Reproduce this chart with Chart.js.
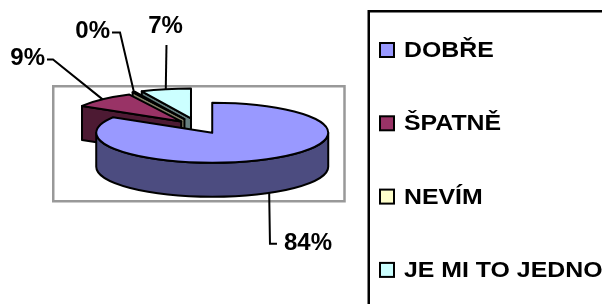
<!DOCTYPE html>
<html><head><meta charset="utf-8">
<script src="https://cdn.jsdelivr.net/npm/chart.js@4"></script>
<style>html,body{margin:0;padding:0;background:#fff;overflow:hidden}#wrap{width:602px;height:304px;position:relative}</style>
</head><body><div id="wrap"><canvas id="c"></canvas></div>
<script>
// ---- data ----
const categories = ['DOBŘE', 'ŠPATNĚ', 'NEVÍM', 'JE MI TO JEDNO'];
const values = [84, 9, 0.4, 7];
const topColors = ['#9999FF', '#993366', '#FFFFCC', '#CCFFFF'];
const sideColors = ['#4C4C80', '#4D1A33', '#808066', '#668080'];
const explode = [30, 24, 30, 30];

// ---- style / layout ----
const TILT = 0.2586, DEPTH = 34;
const labelLayout = [
  {dx: 14.8, dy: 50.4, align: 'left', elbow: [-14, 0.5], stub: [-7, 0.5]},
  {dx: -57.6, dy: -40.9, align: 'right', elbow: [8, 1], stub: [2, 1]},
  {dx: -23.9, dy: -60.5, align: 'right', elbow: [10, 1], stub: [2, 1]},
  {dx: -0.3, dy: -63.1, align: 'center', elbow: [1, 19], stub: [1, 19]}
];
const total = values.reduce((a, b) => a + b, 0);

function P(s, a, z) { return [s.cx + s.R * Math.cos(a), s.cy + TILT * s.R * Math.sin(a) + z]; }

function drawSlice(ctx, s) {
  ctx.save();
  ctx.lineWidth = 2; ctx.strokeStyle = '#000'; ctx.lineJoin = 'round';
  const ry = s.R * TILT;
  const walls = [];
  if (Math.cos(s.a0) < -1e-6) walls.push(s.a0);
  if (Math.cos(s.a1) > 1e-6) walls.push(s.a1);
  walls.forEach(a => {
    const p0 = P(s, a, 0), p1 = P(s, a, DEPTH);
    ctx.beginPath(); ctx.moveTo(s.cx, s.cy); ctx.lineTo(p0[0], p0[1]); ctx.lineTo(p1[0], p1[1]);
    ctx.lineTo(s.cx, s.cy + DEPTH); ctx.closePath();
    ctx.fillStyle = s.side; ctx.fill(); ctx.stroke();
  });
  for (let n = -1; n <= 1; n++) {
    const lo = Math.max(s.a0, 2 * Math.PI * n), hi = Math.min(s.a1, 2 * Math.PI * n + Math.PI);
    if (hi > lo) {
      ctx.beginPath();
      ctx.ellipse(s.cx, s.cy, s.R, ry, 0, lo, hi, false);
      const pb = P(s, hi, DEPTH); ctx.lineTo(pb[0], pb[1]);
      ctx.ellipse(s.cx, s.cy + DEPTH, s.R, ry, 0, hi, lo, true);
      ctx.closePath();
      ctx.fillStyle = s.side; ctx.fill(); ctx.stroke();
    }
  }
  ctx.beginPath(); ctx.moveTo(s.cx, s.cy);
  ctx.ellipse(s.cx, s.cy, s.R, ry, 0, s.a0, s.a1, false);
  ctx.closePath();
  ctx.fillStyle = s.top; ctx.fill(); ctx.stroke();
  ctx.restore();
}

const pie3d = {
  id: 'pie3d',
  beforeDatasetsDraw(chart) {
    const ctx = chart.ctx;
    ctx.save(); ctx.strokeStyle = '#999'; ctx.lineWidth = 2.5;
    ctx.strokeRect(53.25, 86.25, 291.25, 115); ctx.restore();
    const meta = chart.getDatasetMeta(0);
    const slices = meta.data.map((arc, i) => {
      const p = arc.getProps(['x', 'y', 'startAngle', 'endAngle', 'outerRadius'], true);
      const mid = (p.startAngle + p.endAngle) / 2;
      const off = arc.options.offset || 0;
      return {i, a0: p.startAngle, a1: p.endAngle, R: p.outerRadius, mid,
        cx: p.x + Math.cos(mid) * off, cy: p.y + Math.sin(mid) * off * TILT,
        top: arc.options.backgroundColor, side: sideColors[i]};
    });
    chart.$slices = slices;
    slices.slice().sort((a, b) => Math.sin(a.mid) - Math.sin(b.mid)).forEach(s => drawSlice(ctx, s));
    return false;
  },
  afterDraw(chart) {
    const ctx = chart.ctx;
    const slices = chart.$slices || [];
    ctx.save();
    ctx.fillStyle = '#000'; ctx.strokeStyle = '#000'; ctx.lineWidth = 2;
    ctx.font = 'bold 24px "Liberation Sans", Arial, sans-serif';
    ctx.textBaseline = 'middle';
    slices.forEach(s => {
      const L = labelLayout[s.i];
      const front = Math.sin(s.mid) > 0;
      const a = P(s, s.mid, front ? DEPTH : 0);
      const tx = a[0] + L.dx, ty = a[1] + L.dy;
      ctx.beginPath(); ctx.moveTo(a[0], a[1]);
      ctx.lineTo(tx + L.elbow[0], ty + L.elbow[1]);
      ctx.lineTo(tx + L.stub[0], ty + L.stub[1]);
      ctx.stroke();
      ctx.textAlign = L.align;
      ctx.fillText(Math.round(values[s.i] / total * 100) + '%', tx, ty);
    });
    // legend
    ctx.lineWidth = 2.5;
    ctx.strokeRect(368.75, 11.25, 400, 400);
    ctx.font = 'bold 22px "Liberation Sans", Arial, sans-serif';
    ctx.textAlign = 'left';
    categories.forEach((c, i) => {
      const y = 50 + i * 73.3;
      ctx.fillStyle = topColors[i];
      ctx.fillRect(380, y - 7, 14, 14);
      ctx.lineWidth = 2; ctx.strokeStyle = '#000';
      ctx.strokeRect(380, y - 7, 14, 14);
      ctx.fillStyle = '#000';
      ctx.save(); ctx.translate(404, y + 1); ctx.scale(1.13, 1); ctx.fillText(c, 0, 0); ctx.restore();
    });
    ctx.restore();
  }
};

new Chart(document.getElementById('c'), {
  type: 'pie',
  data: {
    labels: categories,
    datasets: [{data: values, backgroundColor: topColors, offset: explode, borderWidth: 0}]
  },
  options: {
    responsive: true, maintainAspectRatio: false, animation: false, events: [],
    radius: 116,
    layout: {padding: {left: 0, right: 207, top: 0, bottom: 52}},
    plugins: {legend: {display: false}, tooltip: {enabled: false}}
  },
  plugins: [pie3d]
});
</script>
</body></html>
